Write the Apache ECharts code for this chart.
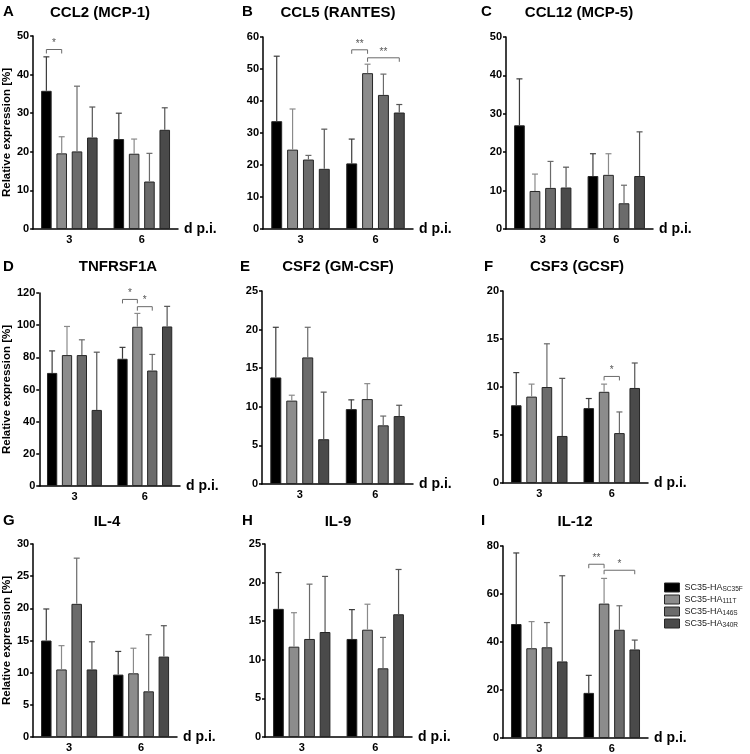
<!DOCTYPE html>
<html><head><meta charset="utf-8">
<script src="https://cdn.jsdelivr.net/npm/echarts@6/dist/echarts.min.js"></script>
<style>html,body{margin:0;padding:0;background:#fff}#c{width:750px;height:754px}</style>
</head><body><div id="c"></div>
<script>
// ---------- DATA ----------
const categories = ['3', '6'];
const seriesNames = ['SC35-HA SC35F', 'SC35-HA 111T', 'SC35-HA 146S', 'SC35-HA 340R'];
const legendBase = 'SC35-HA';
const legendSubs = ['SC35F', '111T', '146S', '340R'];
const panelLetters = ['A', 'B', 'C', 'D', 'E', 'F', 'G', 'H', 'I'];
const panelTitles = ['CCL2 (MCP-1)', 'CCL5 (RANTES)', 'CCL12 (MCP-5)', 'TNFRSF1A', 'CSF2 (GM-CSF)', 'CSF3 (GCSF)', 'IL-4', 'IL-9', 'IL-12'];
const yMax = [50, 60, 50, 120, 25, 20, 30, 25, 80];
const yInterval = [10, 10, 10, 20, 5, 5, 5, 5, 20];

// mean per series [day 3, day 6]; upper = top of error bar
const ccl2Mean  = [[35.8, 23.3], [19.6, 19.5], [20.1, 12.3], [23.7, 25.7]];
const ccl2Upper = [[44.6, 30.0], [23.9, 23.3], [37.0, 19.6], [31.6, 31.4]];
const ccl5Mean  = [[33.7, 20.5], [24.8, 48.7], [21.7, 41.9], [18.8, 36.4]];
const ccl5Upper = [[54.0, 28.1], [37.5, 51.5], [23.0, 48.4], [31.2, 38.9]];
const ccl12Mean  = [[27.0, 13.8], [9.9, 14.1], [10.7, 6.7], [10.8, 13.8]];
const ccl12Upper = [[39.1, 19.6], [14.3, 19.6], [17.6, 11.4], [16.1, 25.3]];
const tnfMean  = [[70.3, 79.1], [81.4, 99.0], [81.4, 71.8], [47.3, 99.2]];
const tnfUpper = [[84.0, 86.2], [99.2, 107.3], [90.9, 81.8], [83.2, 111.7]];
const csf2Mean  = [[13.8, 9.7], [10.8, 11.0], [16.4, 7.6], [5.8, 8.8]];
const csf2Upper = [[20.3, 10.9], [11.5, 13.0], [20.3, 8.8], [11.9, 10.2]];
const csf3Mean  = [[8.1, 7.8], [9.0, 9.5], [10.0, 5.2], [4.9, 9.9]];
const csf3Upper = [[11.5, 8.8], [10.3, 10.3], [14.5, 7.4], [10.9, 12.5]];
const il4Mean  = [[15.0, 9.7], [10.5, 9.9], [20.7, 7.1], [10.5, 12.5]];
const il4Upper = [[19.9, 13.3], [14.2, 13.8], [27.8, 15.9], [14.8, 17.3]];
const il9Mean  = [[16.6, 12.7], [11.7, 13.9], [12.7, 8.9], [13.6, 15.9]];
const il9Upper = [[21.3, 16.5], [16.1, 17.2], [19.8, 12.9], [20.8, 21.7]];
const il12Mean  = [[47.5, 18.8], [37.4, 56.0], [37.8, 45.1], [31.9, 36.9]];
const il12Upper = [[77.1, 26.1], [48.5, 66.5], [48.1, 55.1], [67.6, 40.8]];

// significance brackets: [category, fromBar, toBar, y value, label]
const ccl2Sig = [[0, 0, 1, 46.5, '*']];
const ccl5Sig = [[1, 0, 1, 56, '**'], [1, 1, 3, 53.5, '**']];
const tnfSig = [[1, 0, 1, 116, '*'], [1, 1, 2, 111.5, '*']];
const csf3Sig = [[1, 1, 2, 11.1, '*']];
const il12Sig = [[1, 0, 1, 72.4, '**'], [1, 1, 3, 69.9, '*']];

const panelMeans = [ccl2Mean, ccl5Mean, ccl12Mean, tnfMean, csf2Mean, csf3Mean, il4Mean, il9Mean, il12Mean];
const panelUppers = [ccl2Upper, ccl5Upper, ccl12Upper, tnfUpper, csf2Upper, csf3Upper, il4Upper, il9Upper, il12Upper];
const panelSigs = [ccl2Sig, ccl5Sig, [], tnfSig, [], csf3Sig, [], [], il12Sig];

// ---------- LAYOUT / STYLE ----------
const gridBoxes = [
  [31, 36, 147, 193], [263, 37, 150, 192], [506, 37, 147, 192],
  [33, 293, 147, 193], [262, 291, 151, 193], [503, 291, 145, 192],
  [33, 544, 144, 193], [265, 544, 147, 193], [503, 546, 145, 192]
];
const titlePos = [[100, 13], [338, 13], [579, 13], [118, 267], [338, 267], [577, 267], [107, 522], [338, 522], [575, 522]];
const letterPos = [[3, 12], [242, 12], [481, 12], [3, 267], [240, 267], [484, 267], [3, 521], [242, 521], [481, 521]];
const barColors = ['#000000', '#8c8c8c', '#6b6b6b', '#4a4a4a'];
const errColors = ['#3c3c3c', '#8a8a8a', '#6a6a6a', '#555555'];
const CAT_GAP = 0.22, BAR_GAP = 0.45;
const FONT = '"Liberation Sans", Arial, sans-serif';

function barCenter(api, cat, idx, value) {
  const p = api.coord([cat, value]);
  const band = api.size([1, 0])[0];
  const groupW = band * (1 - CAT_GAP);
  const b = groupW / (4 + 3 * BAR_GAP);
  return [p[0] - groupW / 2 + b / 2 + idx * b * (1 + BAR_GAP), p[1]];
}

const grid = [], xAxis = [], yAxis = [], series = [], graphic = [];
for (let k = 0; k < 9; k++) {
  const g = gridBoxes[k];
  grid.push({ left: g[0], top: g[1], width: g[2], height: g[3] });
  xAxis.push({
    type: 'category', gridIndex: k, data: categories,
    name: 'd p.i.', nameLocation: 'end', nameGap: 6,
    nameTextStyle: { fontFamily: FONT, fontWeight: 'bold', fontSize: 14, color: '#000' },
    axisLine: { lineStyle: { color: '#000', width: 1.5 } },
    axisTick: { alignWithLabel: true, length: 3, lineStyle: { color: '#000', width: 1.5 } },
    axisLabel: { fontFamily: FONT, fontWeight: 'bold', fontSize: 11, color: '#000', margin: 5 }
  });
  const ya = {
    type: 'value', gridIndex: k, min: 0, max: yMax[k], interval: yInterval[k],
    splitLine: { show: false },
    axisLine: { show: true, lineStyle: { color: '#000', width: 1.5 } },
    axisTick: { show: true, length: 3, lineStyle: { color: '#000', width: 1.5 } },
    axisLabel: { fontFamily: FONT, fontWeight: 'bold', fontSize: 11, color: '#000', margin: 4 }
  };
  if (k % 3 === 0) {
    ya.name = 'Relative expression [%]';
    ya.nameLocation = 'middle';
    ya.nameGap = 20;
    ya.nameTextStyle = { fontFamily: FONT, fontWeight: 'bold', fontSize: 11.5, color: '#000' };
  }
  yAxis.push(ya);

  const means = panelMeans[k], uppers = panelUppers[k];
  for (let s = 0; s < 4; s++) {
    series.push({
      type: 'bar', name: seriesNames[s], xAxisIndex: k, yAxisIndex: k,
      data: means[s], barCategoryGap: (CAT_GAP * 100) + '%', barGap: (BAR_GAP * 100) + '%',
      itemStyle: { color: barColors[s], borderColor: '#262626', borderWidth: 1 },
      silent: true, animation: false
    });
  }
  const errData = [];
  for (let s = 0; s < 4; s++) for (let c = 0; c < 2; c++) errData.push([c, s, means[s][c], uppers[s][c]]);
  series.push({
    type: 'custom', xAxisIndex: k, yAxisIndex: k, data: errData, encode: { x: 0, y: 3 },
    silent: true, animation: false, z: 3,
    renderItem: function (params, api) {
      const c = api.value(0), s = api.value(1), m = api.value(2), u = api.value(3);
      const p0 = barCenter(api, c, s, m), p1 = barCenter(api, c, s, u);
      const st = { stroke: errColors[s], lineWidth: 1.2 };
      return { type: 'group', children: [
        { type: 'line', shape: { x1: p0[0], y1: p0[1], x2: p1[0], y2: p1[1] }, style: st },
        { type: 'line', shape: { x1: p1[0] - 3, y1: p1[1], x2: p1[0] + 3, y2: p1[1] }, style: st }
      ] };
    }
  });
  const sig = panelSigs[k];
  if (sig.length) {
    series.push({
      type: 'custom', xAxisIndex: k, yAxisIndex: k,
      data: sig.map(r => [r[0], r[1], r[2], r[3]]), encode: { x: 0, y: 3 },
      silent: true, animation: false, z: 4,
      renderItem: (function (sg) { return function (params, api) {
        const r = sg[params.dataIndex];
        const a = barCenter(api, r[0], r[1], r[3]), b = barCenter(api, r[0], r[2], r[3]);
        const st = { stroke: '#6a6a6a', lineWidth: 1 };
        return { type: 'group', children: [
          { type: 'polyline', shape: { points: [[a[0], a[1] + 4], [a[0], a[1]], [b[0], b[1]], [b[0], b[1] + 4]] }, style: Object.assign({ fill: null }, st) },
          { type: 'text', style: { text: r[4], x: (a[0] + b[0]) / 2, y: a[1] - 1, textAlign: 'center', textVerticalAlign: 'bottom', font: '10px ' + FONT, fill: '#555' } }
        ] };
      }; })(sig)
    });
  }
  graphic.push({ type: 'text', style: { text: panelTitles[k], x: titlePos[k][0], y: titlePos[k][1], textAlign: 'center', textVerticalAlign: 'middle', font: 'bold 15px ' + FONT, fill: '#000' } });
  graphic.push({ type: 'text', style: { text: panelLetters[k], x: letterPos[k][0], y: letterPos[k][1], textAlign: 'left', textVerticalAlign: 'middle', font: 'bold 15px ' + FONT, fill: '#000' } });
}

const chart = echarts.init(document.getElementById('c'), null, { renderer: 'canvas' });
chart.setOption({
  animation: false,
  backgroundColor: '#fff',
  grid, xAxis, yAxis, series, graphic,
  legend: {
    data: seriesNames, orient: 'vertical', left: 664, top: 582,
    itemWidth: 15, itemHeight: 9, itemGap: 1, icon: 'rect', padding: 0,
    selectedMode: false,
    formatter: function (name) {
      const i = seriesNames.indexOf(name);
      return '{m|' + legendBase + '}{s|' + legendSubs[i] + '}';
    },
    textStyle: {
      fontFamily: FONT, color: '#222',
      rich: {
        m: { fontSize: 9, fontFamily: FONT, color: '#222', lineHeight: 10 },
        s: { fontSize: 6.5, fontFamily: FONT, color: '#222', lineHeight: 6, padding: [4, 0, 0, 0] }
      }
    },
    itemStyle: { borderColor: '#262626', borderWidth: 1 }
  }
});
</script>
</body></html>
